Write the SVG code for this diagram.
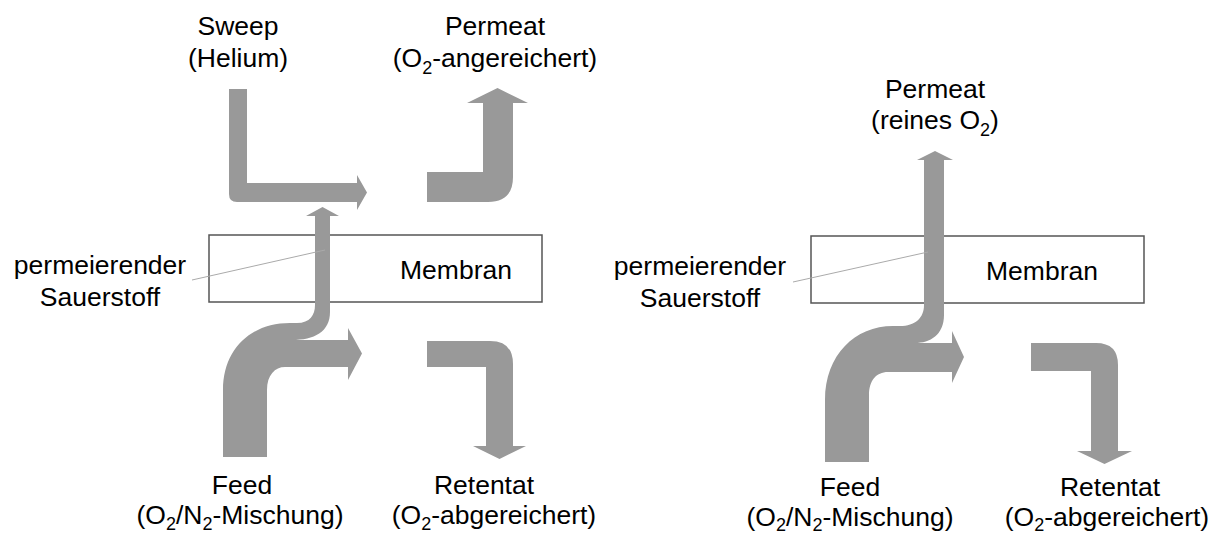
<svg xmlns="http://www.w3.org/2000/svg" width="1224" height="537" viewBox="0 0 1224 537">
<style>
text{font-family:"Liberation Sans",Arial,sans-serif;font-size:26.5px;fill:#000;text-anchor:middle}
.sub{font-size:18px}
.flow{fill:#999999;stroke:none}
.box{fill:#fff;stroke:#555;stroke-width:1.5}
.ptr{stroke:#aaa;stroke-width:1;fill:none}
</style>
<rect width="1224" height="537" fill="#fff"/>
<g id="membrane-left"><rect class="box" x="209" y="235" width="333" height="67"/><text x="456" y="279">Membran</text></g>
<g id="membrane-right"><rect class="box" x="811" y="236" width="333" height="67"/><text x="1042" y="280">Membran</text></g>
<g id="flows">
<path id="sweep-left" class="flow" d="M229,89 H247 V183 H357 V175 L367,192.5 L357,210 V202 H237 Q229,202 229,194 Z"/>
<path id="permeat-left" class="flow" d="M427,172 H483 V103 H467 L497.5,88 L528,103 H513 V177 Q513,202 488,202 H427 Z"/>
<path id="retentat-left" class="flow" d="M427,341 H490 Q513,341 513,364 V446 H526 L499.5,459 L473,446 H486 V367 H427 Z"/>
<path id="feed-left" class="flow" d="M223,457 V390 C223,350 250,323 290,323 H297 C310,323 315,315 315,305 V216 H306 L322.5,207 L339,216 H330 V312 C330,332 314,340 292,340 H348 V328 L362,353.5 L348,380 V367 H285 C275,367 267,375 267,390 V457 Z"/>
<path id="feed-right" class="flow" d="M825,462 V400 C825,355 855,326 893,326 H900 C915,326 924,318 924,305 V160 H917 L935,151 L953,160 H944 V315 C944,335 930,343 915,343 H952 V331 L964,357 L952,383 V372 H888 C876,372 869,381 869,395 V462 Z"/>
<path id="retentat-right" class="flow" d="M1031,343 H1096 Q1118,343 1118,365 V451 H1132 L1104.5,464 L1077,451 H1091 V371 H1031 Z"/>
</g>
<g id="connectors">
<line class="ptr" x1="192" y1="280" x2="325" y2="250"/>
<line class="ptr" x1="793" y1="282" x2="928" y2="252"/>
</g>
<g id="label-sweep"><text x="238" y="35">Sweep</text><text x="238" y="67">(Helium)</text></g>
<g id="label-permeat-left"><text x="495" y="35">Permeat</text><text x="495" y="67">(O<tspan class="sub" dy="7">2</tspan><tspan dy="-7">-angereichert)</tspan></text></g>
<g id="label-perm-o2-left"><text x="100" y="274">permeierender</text><text x="100" y="306">Sauerstoff</text></g>
<g id="label-feed-left"><text x="242" y="494">Feed</text><text x="240" y="524">(O<tspan class="sub" dy="6">2</tspan><tspan dy="-6">/N</tspan><tspan class="sub" dy="6">2</tspan><tspan dy="-6">-Mischung)</tspan></text></g>
<g id="label-retentat-left"><text x="484" y="494">Retentat</text><text x="494" y="524">(O<tspan class="sub" dy="6">2</tspan><tspan dy="-6">-abgereichert)</tspan></text></g>
<g id="label-permeat-right"><text x="935" y="98">Permeat</text><text x="935" y="129">(reines O<tspan class="sub" dy="7">2</tspan><tspan dy="-7">)</tspan></text></g>
<g id="label-perm-o2-right"><text x="700" y="275">permeierender</text><text x="700" y="307">Sauerstoff</text></g>
<g id="label-feed-right"><text x="850" y="496">Feed</text><text x="850" y="526">(O<tspan class="sub" dy="5">2</tspan><tspan dy="-5">/N</tspan><tspan class="sub" dy="5">2</tspan><tspan dy="-5">-Mischung)</tspan></text></g>
<g id="label-retentat-right"><text x="1110" y="496">Retentat</text><text x="1107" y="526">(O<tspan class="sub" dy="5">2</tspan><tspan dy="-5">-abgereichert)</tspan></text></g>
</svg>
